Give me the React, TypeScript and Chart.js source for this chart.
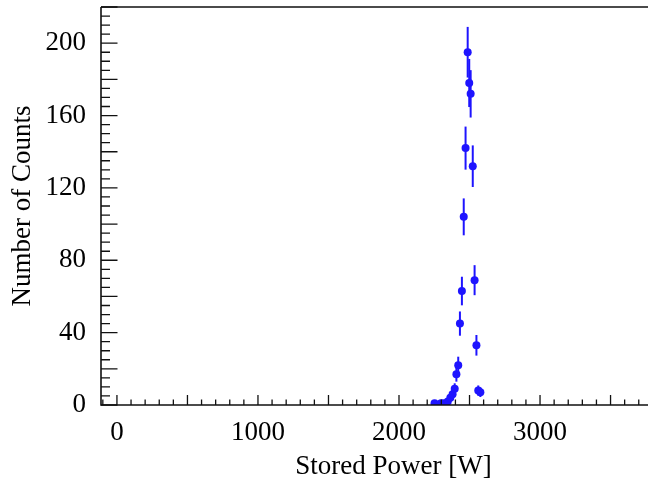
import React, { useEffect, useRef } from "react";
import { Chart, registerables } from "chart.js";

Chart.register(...registerables);

const powerW: number[] = [2252, 2298, 2318, 2346, 2364, 2380, 2395, 2407, 2420, 2432, 2446, 2459, 2472, 2487, 2498, 2508, 2523, 2536, 2549, 2562, 2577];
const counts: number[] = [1, 1, 1, 2, 4, 6, 9, 17, 22, 45, 63, 104, 142, 195, 178, 172, 132, 69, 33, 8, 7];
const countErr: number[] = [1, 1, 1, 1.4, 2, 2.4, 3, 4.1, 4.7, 6.7, 7.9, 10.2, 11.9, 14, 13.3, 13.1, 11.5, 8.3, 5.7, 2.8, 2.6];
const xLabels: number[] = [0, 1000, 2000, 3000];
const yLabels: number[] = [0, 40, 80, 120, 160, 200];

const X_MIN = -113;
const X_MAX = 4035;
const Y_MIN = 0;
const Y_MAX = 220;

const BLUE = "rgb(30,20,255)";
const FONT = "'Liberation Serif', 'DejaVu Serif', serif";

const frameAndErrors = {
  id: "frameAndErrors",
  beforeDatasetsDraw(chart: any) {
    const ctx = chart.ctx;
    const xs = chart.scales.x;
    const ys = chart.scales.y;
    ctx.save();
    ctx.strokeStyle = BLUE;
    ctx.lineWidth = 2;
    powerW.forEach((xv, i) => {
      const px = xs.getPixelForValue(xv);
      const y1 = ys.getPixelForValue(counts[i] + countErr[i]);
      const y2 = ys.getPixelForValue(Math.max(0, counts[i] - countErr[i]));
      ctx.beginPath();
      ctx.moveTo(px, y1);
      ctx.lineTo(px, y2);
      ctx.stroke();
    });
    ctx.restore();
  },
  afterDatasetsDraw(chart: any) {
    const ctx = chart.ctx;
    const xs = chart.scales.x;
    const ys = chart.scales.y;
    const { left, right, top, bottom } = chart.chartArea;
    ctx.save();
    ctx.strokeStyle = "#111";
    ctx.lineWidth = 1.6;
    ctx.beginPath();
    ctx.moveTo(left, top);
    ctx.lineTo(right, top);
    ctx.moveTo(left, top);
    ctx.lineTo(left, bottom);
    ctx.lineTo(right, bottom);
    ctx.stroke();
    ctx.lineWidth = 1.3;
    ctx.beginPath();
    for (let v = Math.ceil(X_MIN / 100) * 100; v <= X_MAX; v += 100) {
      const px = xs.getPixelForValue(v);
      const len = v % 500 === 0 ? 10 : 5.5;
      ctx.moveTo(px, bottom);
      ctx.lineTo(px, bottom - len);
    }
    for (let v = Y_MIN; v <= Y_MAX; v += 5) {
      const py = ys.getPixelForValue(v);
      const len = v % 20 === 0 ? 16.5 : 9;
      ctx.moveTo(left, py);
      ctx.lineTo(left + len, py);
    }
    ctx.stroke();
    ctx.restore();
  },
};

export default function App() {
  const canvasRef = useRef<HTMLCanvasElement | null>(null);

  useEffect(() => {
    if (!canvasRef.current) return;
    const chart = new Chart(canvasRef.current, {
      type: "scatter",
      data: {
        datasets: [
          {
            label: "counts",
            data: powerW.map((x, i) => ({ x, y: counts[i] })),
            backgroundColor: BLUE,
            borderColor: BLUE,
            pointRadius: 4,
            pointBorderWidth: 0,
            showLine: false,
          },
        ],
      },
      options: {
        animation: false,
        responsive: true,
        maintainAspectRatio: false,
        layout: { padding: { top: 7, right: 0, left: 0, bottom: 0 } },
        plugins: {
          legend: { display: false },
          tooltip: { enabled: false },
        },
        scales: {
          x: {
            type: "linear",
            min: X_MIN,
            max: X_MAX,
            grid: { display: false, drawTicks: false },
            border: { display: false },
            afterFit: (scale: any) => {
              scale.height = 78;
              scale.paddingLeft = 0;
              scale.paddingRight = 0;
            },
            afterBuildTicks: (scale: any) => {
              scale.ticks = xLabels.map((v) => ({ value: v }));
            },
            ticks: {
              padding: 12,
              maxRotation: 0,
              autoSkip: false,
              color: "#000",
              font: { family: FONT, size: 27 },
              callback: (v: any) => String(v),
            },
            title: {
              display: true,
              text: "Stored Power [W]",
              color: "#000",
              font: { family: FONT, size: 27 },
              padding: { top: 0, bottom: 0 },
            },
          },
          y: {
            type: "linear",
            min: Y_MIN,
            max: Y_MAX,
            grid: { display: false, drawTicks: false },
            border: { display: false },
            afterFit: (scale: any) => {
              scale.width = 101;
              scale.paddingTop = 0;
              scale.paddingBottom = 0;
            },
            afterBuildTicks: (scale: any) => {
              scale.ticks = yLabels.map((v) => ({ value: v }));
            },
            ticks: {
              padding: 15,
              autoSkip: false,
              color: "#000",
              font: { family: FONT, size: 27 },
              callback: (v: any) => String(v),
            },
            title: {
              display: true,
              text: "Number of Counts",
              color: "#000",
              font: { family: FONT, size: 27 },
              padding: { top: 7, bottom: 0 },
            },
          },
        },
      },
      plugins: [frameAndErrors],
    });
    return () => chart.destroy();
  }, []);

  return (
    <div
      style={{
        position: "absolute",
        left: 0,
        top: 0,
        width: 648,
        height: 483,
        overflow: "hidden",
        background: "#fff",
      }}
    >
      <div style={{ position: "relative", width: 690, height: 483 }}>
        <canvas ref={canvasRef} />
      </div>
    </div>
  );
}
